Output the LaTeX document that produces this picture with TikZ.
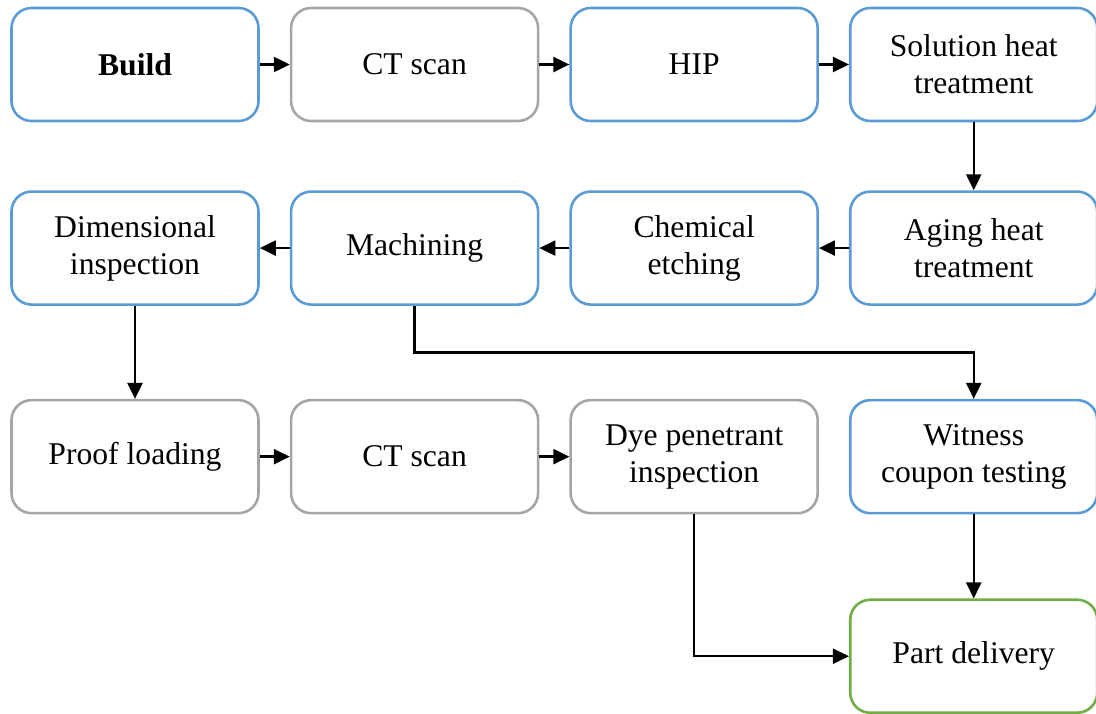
\documentclass[tikz,border=0pt]{standalone}
\usepackage{fontspec}
\setmainfont{Liberation Serif}
\usetikzlibrary{arrows.meta}
\usetikzlibrary{positioning}
\definecolor{stageblue}{HTML}{5B9BD5}
\definecolor{stagegray}{HTML}{A5A5A5}
\definecolor{stagegreen}{HTML}{70AD47}

\begin{document}
\begin{tikzpicture}[node distance=2.04cm and 0.9cm,
	box/.style={draw,rectangle,rounded corners=0.6cm,line width=2.2pt,minimum width=7.41cm,minimum height=3.39cm,align=center,font=\fontsize{27}{31.5}\selectfont},
	flow/.style={line width=2pt,-{Triangle[length=0.48cm,width=0.45cm]}}]
		\useasboundingbox (0,0) rectangle (32.88,-21.39);

		% first row
		\node [box,draw=stageblue] (build) at (4.05,-1.935) {\textbf{Build}};
		\node [box,draw=stagegray,right=of build] (ctscan1) {CT scan};
		\node [box,draw=stageblue,right=of ctscan1] (hip) {HIP};
		\node [box,draw=stageblue,right=of hip] (solution) {Solution heat\\treatment};

		% second row
		\node [box,draw=stageblue,below=of solution] (aging) {Aging heat\\treatment};
		\node [box,draw=stageblue,left=of aging] (etching) {Chemical\\etching};
		\node [box,draw=stageblue,left=of etching] (machining) {Machining};
		\node [box,draw=stageblue,left=of machining] (dimensional) {Dimensional\\inspection};

		% third row
		\node [box,draw=stagegray,below=2.79cm of dimensional] (proof) {Proof loading};
		\node [box,draw=stagegray,right=of proof] (ctscan2) {CT scan};
		\node [box,draw=stagegray,right=of ctscan2] (dye) {Dye penetrant\\inspection};
		\node [box,draw=stageblue,right=of dye] (witness) {Witness\\coupon testing};

		\node [box,draw=stagegreen,below=2.52cm of witness] (delivery) {Part delivery};

		\draw [flow] (build) -- (ctscan1);
		\draw [flow] (ctscan1) -- (hip);
		\draw [flow] (hip) -- (solution);
		\draw [flow] (solution) -- (aging);
		\draw [flow] (aging) -- (etching);
		\draw [flow] (etching) -- (machining);
		\draw [flow] (machining) -- (dimensional);
		\draw [flow] (dimensional) -- (proof);
		\draw [flow] (machining.south) -- ++(0,-1.4) -| (witness.north);
		\draw [flow] (proof) -- (ctscan2);
		\draw [flow] (ctscan2) -- (dye);
		\draw [flow] (witness) -- (delivery);
		\draw [flow] (dye.south) |- (delivery.west);
	\end{tikzpicture}
\end{document}
